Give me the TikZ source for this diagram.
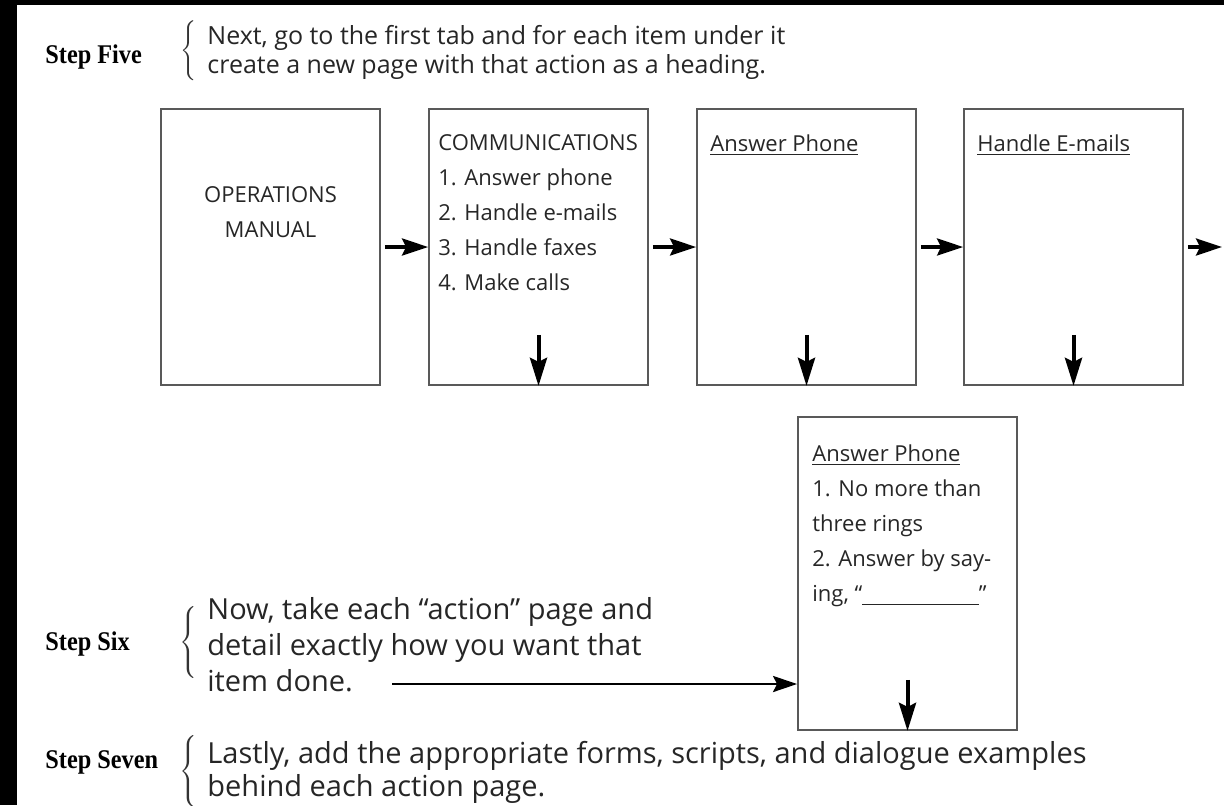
\documentclass[tikz,border=0pt]{standalone}
\usepackage{fontspec}
\usepackage{graphicx}
\setmainfont{Open Sans}
\newfontfamily\stepfont{Liberation Serif}
\usetikzlibrary{arrows.meta,positioning}
\newcommand{\steplabel}[1]{\scalebox{0.9}[1]{#1}}
\newcommand{\bracetall}[1]{$\left\{\vrule height #1 depth #1 width 0pt\right.$}

\begin{document}
\begin{tikzpicture}[x=0.5pt, y=-0.5pt,
  page/.style={draw=black!65, line width=0.9pt, minimum width=109.5pt,
               minimum height=138pt, inner sep=0pt},
  pagetxt/.style={inner sep=0pt, align=left, text=black!85,
                  font=\fontsize{11}{17.5}\selectfont},
  steplbl/.style={inner sep=0pt, font=\stepfont\bfseries\fontsize{13.5}{15}\selectfont},
  fivetext/.style={inner sep=0pt, align=left, text=black!85,
                   font=\fontsize{12.5}{14.5}\selectfont},
  lowtext/.style={inner sep=0pt, align=left, text=black!85,
                  font=\fontsize{14.5}{18}\selectfont},
  brc/.style={inner sep=0pt, text=black!80},
  nxt/.style={-{Stealth[length=13pt, width=8.5pt, inset=2pt]}, line width=1.7pt},
  dwn/.style={-{Stealth[length=14pt, width=8.5pt, inset=2pt]}, line width=2pt},
  lng/.style={-{Stealth[length=12pt, width=8pt, inset=2pt]}, line width=1.4pt}
]
\useasboundingbox (0,0) rectangle (1224,805);
\fill[black] (0,0) rectangle (17,805);
\fill[black] (0,0) rectangle (1224,5);

% step five
\node[steplbl, anchor=west] (five) at (45,57) {\steplabel{Step Five}};
\node[brc] (fivebr) at (190,52) {\bracetall{13.5pt}};
\node[fivetext, anchor=north west] (fivetxt) at (207,25)
  {Next, go to the first tab and for each item under it\\
   create a new page with that action as a heading.};

% pages
\node[page] (manual) at (270.5,247) {};
\node[page] (comm)   at (538.5,247) {};
\node[page] (phone)  at (806.5,247) {};
\node[page] (email)  at (1073.5,247) {};
\node[page, minimum height=156.5pt] (detail) at (907.5,573.5) {};

\node[pagetxt, align=center, anchor=north] (manualtxt) at (270.5,186) {OPERATIONS\\MANUAL};
\node[pagetxt, anchor=north west] (commtxt) at (438,134)
  {COMMUNICATIONS\\1. Answer phone\\2. Handle e-mails\\3. Handle faxes\\4. Make calls};
\node[pagetxt, anchor=north west] (phonetxt) at (710,134) {\underline{Answer Phone}};
\node[pagetxt, anchor=north west] (emailtxt) at (977,134) {\underline{Handle E-mails}};
\node[pagetxt, anchor=north west] (detailtxt) at (812,444)
  {\underline{Answer Phone}\\1. No more than\\three rings\\2. Answer by say-\\ing, “\underline{\hspace{5.3em}}”};

\coordinate (more) at (1222,247);
\draw[nxt] ([xshift=2pt]manual.east) -- (comm.west);
\draw[nxt] ([xshift=2pt]comm.east) -- (phone.west);
\draw[nxt] ([xshift=2pt]phone.east) -- (email.west);
\draw[nxt] ([xshift=2pt]email.east) -- (more);

\foreach \p in {comm,phone,email,detail}
  \draw[dwn] ([yshift=25.5pt]\p.south) -- (\p.south);

% step six
\node[steplbl, anchor=west] (six) at (45,644) {\steplabel{Step Six}};
\node[brc] (sixbr) at (190,642) {\bracetall{14.5pt}};
\node[lowtext, anchor=north west] (sixtxt) at (207,597)
  {Now, take each “action” page and\\
   detail exactly how you want that\\
   item done.};
\coordinate (sixarr) at (392,684);
\draw[lng] (sixarr) -- (sixarr -| detail.west);

% step seven
\node[steplbl, anchor=west] (seven) at (45,762) {\steplabel{Step Seven}};
\node[brc] (sevenbr) at (190,771) {\bracetall{15pt}};
\node[lowtext, font=\fontsize{14.5}{16.5}\selectfont, anchor=north west] (seventxt) at (207,741)
  {Lastly, add the appropriate forms, scripts, and dialogue examples\\
   behind each action page.};
\end{tikzpicture}
\end{document}
